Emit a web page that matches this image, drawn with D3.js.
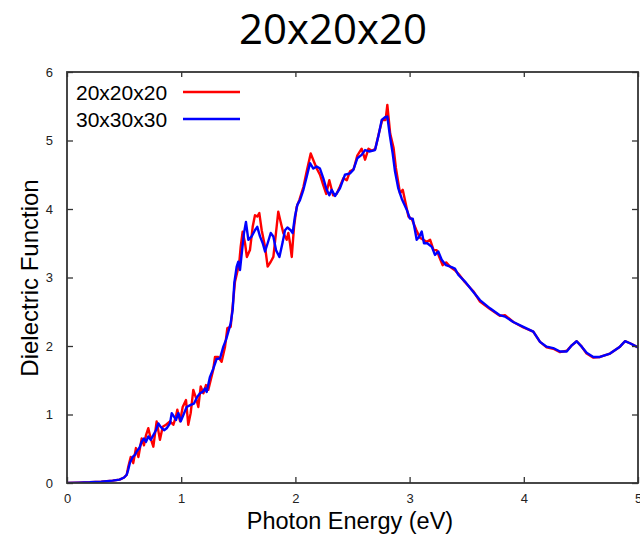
<!DOCTYPE html>
<html>
<head>
<meta charset="utf-8">
<script src="https://cdn.jsdelivr.net/npm/d3@7"></script>
<style>
  html, body { margin: 0; padding: 0; background: #fff; }
  svg { display: block; }
</style>
</head>
<body>
<svg id="chart" width="640" height="535"></svg>
<script>
/* ---------- Data ---------- */
const seriesNames = ["20x20x20", "30x30x30"];
const seriesColors = ["#ff0000", "#0000ff"];

const xTicks = [0, 1, 2, 3, 4, 5];
const yTicks = [0, 1, 2, 3, 4, 5, 6];

// 20x20x20 k-grid
const energy20 = [0, 0.1, 0.2, 0.3, 0.4, 0.46, 0.5, 0.523, 0.537, 0.558, 0.58, 0.604, 0.625, 0.654, 0.674, 0.692,
  0.712, 0.733, 0.756, 0.785, 0.814, 0.838, 0.867, 0.902, 0.931, 0.954, 0.966, 0.99, 1.013, 1.042, 1.062, 1.083,
  1.106, 1.13, 1.15, 1.171, 1.194, 1.217, 1.237, 1.258, 1.28, 1.296, 1.325, 1.354, 1.384, 1.404, 1.433, 1.456,
  1.471, 1.491, 1.509, 1.521, 1.538, 1.559, 1.575, 1.602, 1.626, 1.646, 1.666, 1.684, 1.705, 1.734, 1.757, 1.784,
  1.807, 1.83, 1.85, 1.871, 1.894, 1.924, 1.938, 1.953, 1.968, 1.988, 2.011, 2.034, 2.07, 2.099, 2.134, 2.16,
  2.19, 2.215, 2.244, 2.27, 2.297, 2.33, 2.36, 2.39, 2.42, 2.45, 2.478, 2.51, 2.542, 2.58, 2.61, 2.64,
  2.67, 2.7, 2.73, 2.76, 2.79, 2.805, 2.83, 2.86, 2.88, 2.916, 2.94, 2.99, 3.02, 3.06, 3.09, 3.12,
  3.15, 3.18, 3.21, 3.237, 3.26, 3.29, 3.32, 3.36, 3.4, 3.43, 3.485, 3.558, 3.616, 3.704, 3.79, 3.835,
  3.908, 3.996, 4.083, 4.142, 4.2, 4.258, 4.317, 4.376, 4.42, 4.463, 4.507, 4.55, 4.609, 4.667, 4.755, 4.842,
  4.886, 4.93, 5.0];
const eps20 = [0, 0.005, 0.01, 0.02, 0.035, 0.05, 0.08, 0.12, 0.24, 0.38, 0.29, 0.51, 0.38, 0.65, 0.55, 0.70,
  0.80, 0.65, 0.53, 0.90, 0.63, 0.82, 0.85, 0.90, 0.85, 0.97, 1.07, 0.90, 1.11, 1.21, 0.85, 1.02,
  1.36, 1.24, 1.11, 1.41, 1.31, 1.43, 1.36, 1.50, 1.65, 1.84, 1.84, 1.77, 1.99, 2.26, 2.28, 2.67,
  2.94, 3.08, 3.23, 3.45, 3.67, 3.50, 3.30, 3.40, 3.74, 3.91, 3.89, 3.94, 3.69, 3.45, 3.16, 3.23,
  3.30, 3.65, 3.96, 3.81, 3.65, 3.55, 3.65, 3.50, 3.30, 3.74, 4.03, 4.13, 4.32, 4.55, 4.81, 4.70,
  4.58, 4.50, 4.35, 4.22, 4.42, 4.20, 4.22, 4.33, 4.45, 4.42, 4.55, 4.58, 4.78, 4.88, 4.72, 4.88,
  4.85, 4.88, 5.10, 5.30, 5.30, 5.52, 5.10, 4.89, 4.60, 4.23, 4.28, 3.89, 3.85, 3.69, 3.58, 3.55,
  3.52, 3.55, 3.40, 3.40, 3.30, 3.18, 3.22, 3.15, 3.10, 3.05, 2.93, 2.80, 2.65, 2.54, 2.44, 2.45,
  2.35, 2.27, 2.21, 2.06, 1.98, 1.96, 1.91, 1.93, 2.01, 2.07, 1.99, 1.89, 1.83, 1.84, 1.89, 1.99,
  2.07, 2.04, 1.98];

// 30x30x30 k-grid
const energy30 = [0, 0.1, 0.2, 0.3, 0.4, 0.46, 0.5, 0.523, 0.537, 0.552, 0.575, 0.595, 0.61, 0.633, 0.654, 0.674,
  0.692, 0.712, 0.733, 0.756, 0.779, 0.8, 0.82, 0.85, 0.873, 0.902, 0.917, 0.937, 0.954, 0.975, 0.996, 1.018,
  1.048, 1.083, 1.112, 1.141, 1.165, 1.188, 1.208, 1.223, 1.252, 1.281, 1.31, 1.34, 1.369, 1.392, 1.413, 1.433,
  1.451, 1.465, 1.486, 1.5, 1.515, 1.53, 1.55, 1.567, 1.588, 1.617, 1.646, 1.666, 1.69, 1.714, 1.734, 1.757,
  1.784, 1.807, 1.83, 1.86, 1.889, 1.909, 1.93, 1.959, 1.976, 1.996, 2.017, 2.04, 2.07, 2.099, 2.128, 2.157,
  2.187, 2.215, 2.244, 2.274, 2.297, 2.318, 2.347, 2.39, 2.434, 2.478, 2.507, 2.542, 2.58, 2.61, 2.647, 2.697,
  2.726, 2.756, 2.785, 2.805, 2.828, 2.852, 2.872, 2.901, 2.931, 2.975, 3.003, 3.027, 3.047, 3.062, 3.085, 3.106,
  3.126, 3.155, 3.194, 3.222, 3.251, 3.281, 3.319, 3.368, 3.397, 3.426, 3.485, 3.558, 3.616, 3.704, 3.79, 3.835,
  3.908, 3.996, 4.083, 4.142, 4.2, 4.258, 4.317, 4.376, 4.42, 4.463, 4.507, 4.55, 4.609, 4.667, 4.755, 4.842,
  4.886, 4.93, 5.0];
const eps30 = [0, 0.005, 0.01, 0.02, 0.035, 0.05, 0.08, 0.12, 0.20, 0.30, 0.38, 0.41, 0.46, 0.51, 0.60, 0.65,
  0.60, 0.68, 0.63, 0.70, 0.77, 0.87, 0.82, 0.77, 0.80, 0.87, 1.02, 0.97, 0.92, 1.02, 0.90, 0.99,
  1.11, 1.14, 1.16, 1.26, 1.31, 1.33, 1.38, 1.33, 1.55, 1.67, 1.81, 1.82, 1.99, 2.09, 2.21, 2.33,
  2.53, 2.92, 3.16, 3.23, 3.11, 3.35, 3.65, 3.81, 3.55, 3.60, 3.69, 3.74, 3.60, 3.50, 3.38, 3.50,
  3.65, 3.60, 3.40, 3.30, 3.52, 3.69, 3.73, 3.69, 3.65, 3.89, 4.06, 4.13, 4.28, 4.47, 4.67, 4.59,
  4.62, 4.59, 4.45, 4.28, 4.20, 4.28, 4.19, 4.30, 4.50, 4.52, 4.57, 4.74, 4.79, 4.86, 4.84, 4.86,
  5.06, 5.30, 5.34, 5.35, 5.06, 4.81, 4.55, 4.30, 4.15, 3.99, 3.86, 3.86, 3.69, 3.55, 3.60, 3.67,
  3.50, 3.50, 3.45, 3.33, 3.38, 3.26, 3.18, 3.15, 3.13, 3.04, 2.94, 2.79, 2.67, 2.55, 2.45, 2.43,
  2.35, 2.28, 2.21, 2.06, 1.99, 1.97, 1.92, 1.92, 2.01, 2.07, 1.99, 1.90, 1.84, 1.84, 1.89, 1.99,
  2.07, 2.04, 1.98];

/* ---------- Layout ---------- */
const W = 640, H = 535;
const plot = { left: 67, right: 638, top: 72, bottom: 483 };
const AXIS_COL = "#333";

const svg = d3.select("#chart");

const x = d3.scaleLinear().domain([0, 5]).range([plot.left, plot.right]);
const y = d3.scaleLinear().domain([0, 6]).range([plot.bottom, plot.top]);

// Title
svg.append("text")
  .attr("x", 333).attr("y", 44)
  .attr("text-anchor", "middle")
  .attr("font-family", "'Open Sans', sans-serif")
  .attr("font-size", 42)
  .attr("fill", "#000")
  .text("20x20x20");

/* ---------- Series ---------- */
const series = [
  { name: seriesNames[0], color: seriesColors[0], pts: energy20.map((e, i) => [e, eps20[i]]) },
  { name: seriesNames[1], color: seriesColors[1], pts: energy30.map((e, i) => [e, eps30[i]]) },
];

const line = d3.line().x(d => x(d[0])).y(d => y(d[1]));

svg.append("defs").append("clipPath").attr("id", "clip")
  .append("rect")
  .attr("x", plot.left).attr("y", plot.top)
  .attr("width", plot.right - plot.left).attr("height", plot.bottom - plot.top);

const gLines = svg.append("g").attr("clip-path", "url(#clip)");
gLines.selectAll("path")
  .data(series)
  .join("path")
  .attr("d", d => line(d.pts))
  .attr("fill", "none")
  .attr("stroke", d => d.color)
  .attr("stroke-width", 2.4)
  .attr("stroke-linejoin", "round")
  .attr("stroke-linecap", "round");

/* ---------- Axes (gnuplot style: inward ticks on all sides) ---------- */
const tickFont = "'Liberation Sans', Arial, sans-serif";

const gx = svg.append("g")
  .attr("transform", `translate(0,${plot.bottom})`)
  .call(d3.axisBottom(x).tickValues(xTicks).tickSize(-6).tickPadding(11).tickFormat(d3.format("d")));
const gxTop = svg.append("g")
  .attr("transform", `translate(0,${plot.top})`)
  .call(d3.axisTop(x).tickValues(xTicks).tickSize(-5).tickFormat(""));
const gy = svg.append("g")
  .attr("transform", `translate(${plot.left},0)`)
  .call(d3.axisLeft(y).tickValues(yTicks).tickSize(-6).tickPadding(14).tickFormat(d3.format("d")));
const gyRight = svg.append("g")
  .attr("transform", `translate(${plot.right},0)`)
  .call(d3.axisRight(y).tickValues(yTicks).tickSize(-6).tickFormat(""));

for (const g of [gx, gxTop, gy, gyRight]){
  g.select(".domain").remove();
  g.selectAll(".tick line").attr("stroke", AXIS_COL).attr("stroke-width", 1.3);
  g.selectAll(".tick text")
    .attr("font-family", tickFont)
    .attr("font-size", 13)
    .attr("fill", "#222");
}

// Frame
svg.append("rect")
  .attr("x", plot.left).attr("y", plot.top)
  .attr("width", plot.right - plot.left).attr("height", plot.bottom - plot.top)
  .attr("fill", "none")
  .attr("stroke", AXIS_COL)
  .attr("stroke-width", 1.8);

/* ---------- Axis titles ---------- */
svg.append("text")
  .attr("x", 350).attr("y", 528.5)
  .attr("text-anchor", "middle")
  .attr("font-family", tickFont)
  .attr("font-size", 23.5)
  .attr("fill", "#000")
  .text("Photon Energy (eV)");

svg.append("text")
  .attr("transform", `translate(38,278) rotate(-90)`)
  .attr("text-anchor", "middle")
  .attr("font-family", tickFont)
  .attr("font-size", 24)
  .attr("fill", "#000")
  .text("Dielectric Function");

/* ---------- Legend ---------- */
const legend = svg.append("g");
series.forEach((s, i) => {
  const yy = 92 + i * 27;
  legend.append("text")
    .attr("x", 76).attr("y", yy + 7.5)
    .attr("font-family", tickFont)
    .attr("font-size", 21)
    .attr("fill", "#000")
    .text(s.name);
  legend.append("line")
    .attr("x1", 183).attr("x2", 240)
    .attr("y1", yy).attr("y2", yy)
    .attr("stroke", s.color)
    .attr("stroke-width", 2.4);
});
</script>
</body>
</html>
